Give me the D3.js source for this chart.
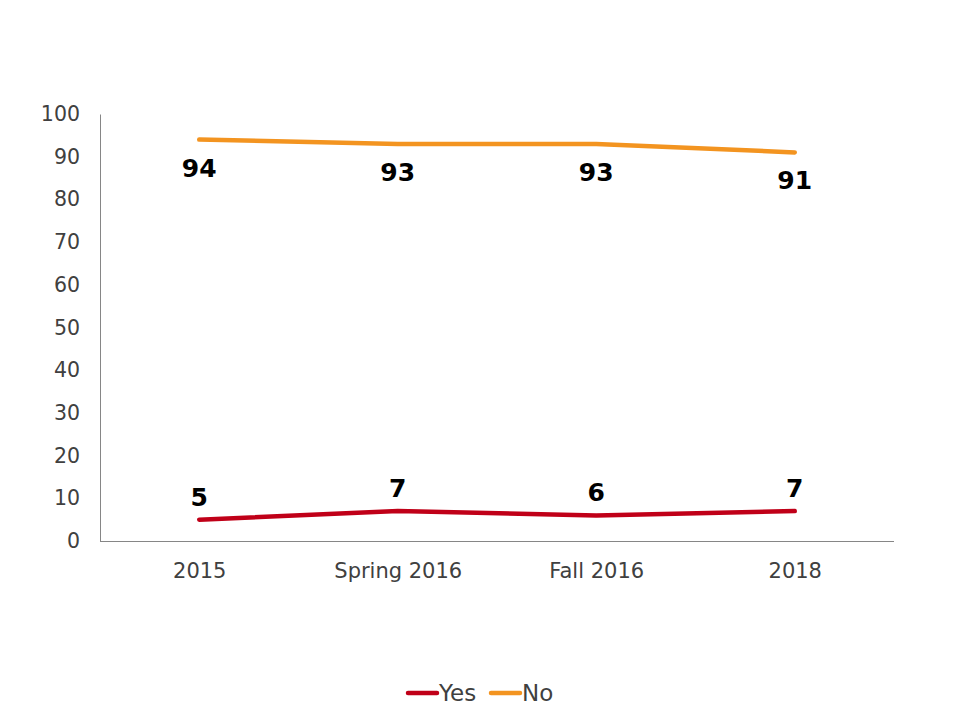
<!DOCTYPE html>
<html>
<head>
<meta charset="utf-8">
<script src="https://cdn.jsdelivr.net/npm/d3@7"></script>
<style>
  body { margin: 0; background: #fff; }
  svg { font-family: Verdana, "DejaVu Sans", sans-serif; }
</style>
</head>
<body>
<div class="chart"></div>
<script>
const categories = ["2015", "Spring 2016", "Fall 2016", "2018"];
const yesValues = [5, 7, 6, 7];
const noValues = [94, 93, 93, 91];
const yTicks = [0, 10, 20, 30, 40, 50, 60, 70, 80, 90, 100];

const series = [
  { name: "Yes", values: yesValues, color: "#c00018", labelDy: -14 },
  { name: "No", values: noValues, color: "#f39420", labelDy: 37 },
];

const w = 960;
const h = 720;
const plotLeft = 100;
const plotRight = 894;
const plotTop = 114;
const plotBottom = 541;

const svg = d3
  .select(".chart")
  .append("svg")
  .attr("width", w)
  .attr("height", h);

const xScale = d3.scalePoint().domain(categories).range([plotLeft, plotRight]).padding(0.5);
const yScale = d3.scaleLinear().domain([0, 100]).range([plotBottom, plotTop]);

// y axis
const yAxis = svg
  .append("g")
  .attr("transform", "translate(" + plotLeft + ",0)")
  .call(d3.axisLeft(yScale).tickValues(yTicks).tickSize(0).tickPadding(20));
yAxis.select(".domain").attr("stroke", "#868686").attr("stroke-width", 1);
yAxis.selectAll("text").attr("font-size", 20.5).attr("fill", "#404040")
  .attr("font-family", "Verdana, 'DejaVu Sans', sans-serif");

// x axis
const xAxis = svg
  .append("g")
  .attr("transform", "translate(0," + plotBottom + ")")
  .call(d3.axisBottom(xScale).tickSize(0).tickPadding(22));
xAxis.select(".domain").attr("stroke", "#868686").attr("stroke-width", 1)
  .attr("d", "M" + plotLeft + ",0.5H" + plotRight);
xAxis.selectAll("text").attr("font-size", 21).attr("fill", "#404040")
  .attr("font-family", "Verdana, 'DejaVu Sans', sans-serif");

const line = d3
  .line()
  .x((d, i) => xScale(categories[i]))
  .y((d) => yScale(d));

series.forEach((s) => {
  svg
    .append("path")
    .datum(s.values)
    .attr("fill", "none")
    .attr("stroke", s.color)
    .attr("stroke-width", 4.5)
    .attr("stroke-linecap", "round")
    .attr("stroke-linejoin", "round")
    .attr("d", line);

  svg
    .selectAll(".lbl-" + s.name)
    .data(s.values)
    .enter()
    .append("text")
    .attr("x", (d, i) => xScale(categories[i]))
    .attr("y", (d) => yScale(d) + s.labelDy)
    .attr("text-anchor", "middle")
    .attr("font-size", 25)
    .attr("font-weight", "bold")
    .attr("fill", "#000")
    .text((d) => d);
});

// legend
const legendY = 693;
const legend = [
  { name: "Yes", color: "#c00018", x: 408 },
  { name: "No", color: "#f39420", x: 491 },
];
legend.forEach((l) => {
  svg
    .append("line")
    .attr("x1", l.x)
    .attr("x2", l.x + 29)
    .attr("y1", legendY)
    .attr("y2", legendY)
    .attr("stroke", l.color)
    .attr("stroke-width", 4.5)
    .attr("stroke-linecap", "round");
  svg
    .append("text")
    .attr("x", l.x + 31)
    .attr("y", legendY + 8)
    .attr("font-size", 23)
    .attr("fill", "#404040")
    .text(l.name);
});
</script>
</body>
</html>
